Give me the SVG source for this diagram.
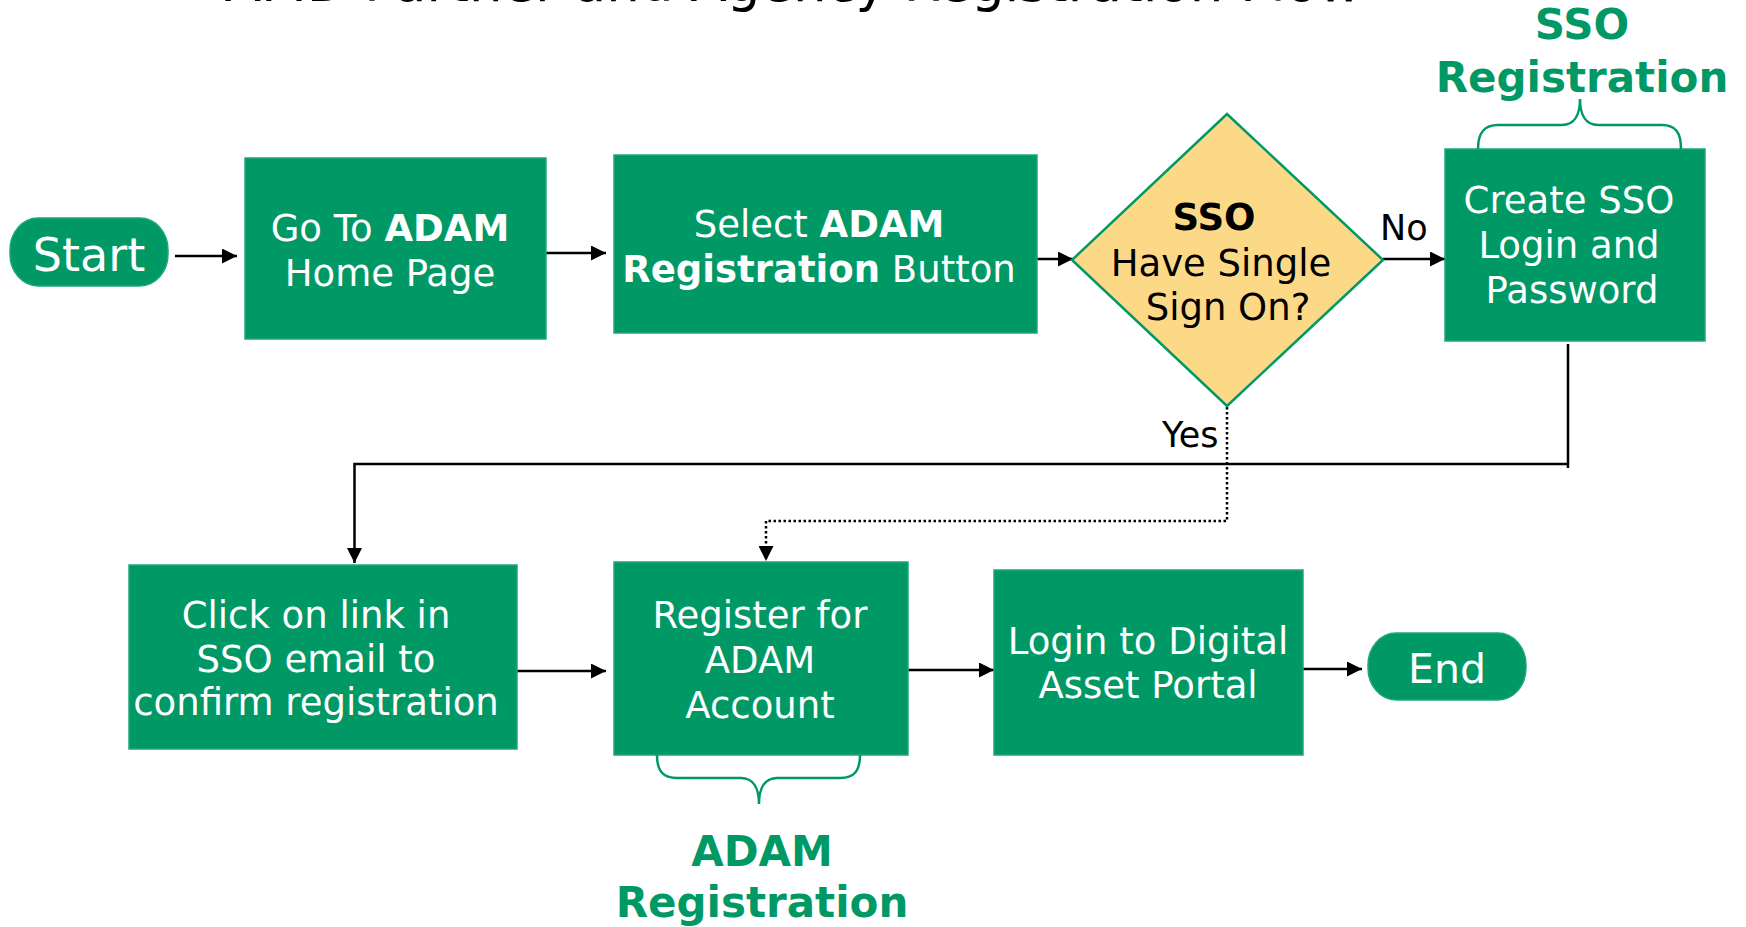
<svg xmlns="http://www.w3.org/2000/svg" width="1746" height="927" viewBox="0 0 1746 927">
<style>
  .box { fill: #009966; stroke: #1fa877; stroke-width: 1.5; }
  .pill { fill: #009966; stroke: #1fa877; stroke-width: 1.5; }
  .dec { fill: #fcd986; stroke: #009966; stroke-width: 2.5; }
  .t { font-family: "DejaVu Sans", Verdana, sans-serif; font-size: 37px; fill: #ffffff; text-anchor: middle; }
  .td { font-family: "DejaVu Sans", Verdana, sans-serif; font-size: 37px; fill: #000000; text-anchor: middle; }
  .lbl { font-family: "DejaVu Sans", Verdana, sans-serif; font-size: 35px; fill: #000000; }
  .grp { font-family: "DejaVu Sans", Verdana, sans-serif; font-size: 42px; font-weight: bold; fill: #009966; text-anchor: middle; }
  .title { font-family: "DejaVu Sans", Verdana, sans-serif; font-size: 53px; fill: #000000; text-anchor: middle; }
  .b { font-weight: bold; }
  .c { fill: none; stroke: #000000; stroke-width: 2.5; }
  .dot { fill: none; stroke: #000000; stroke-width: 2.5; stroke-dasharray: 2.5 2.5; }
  .brace { fill: none; stroke: #009966; stroke-width: 2.5; }
</style>
<defs>
  <marker id="ah" markerWidth="15" markerHeight="15" refX="15" refY="7.5" orient="auto" markerUnits="userSpaceOnUse">
    <path d="M0,0 L15,7.5 L0,15 Z" fill="#000000"/>
  </marker>
</defs>

<text class="title" x="793" y="1">AMD Partner and Agency Registration Flow</text>

<g id="connectors">
  <line class="c" x1="175" y1="256" x2="237" y2="256" marker-end="url(#ah)"/>
  <line class="c" x1="546" y1="253" x2="606" y2="253" marker-end="url(#ah)"/>
  <line class="c" x1="1037" y1="259" x2="1073" y2="259" marker-end="url(#ah)"/>
  <line class="c" x1="1383" y1="259" x2="1445" y2="259" marker-end="url(#ah)"/>
  <text class="lbl" x="1380" y="240">No</text>
  <path class="c" d="M1568,344 L1568,468"/>
  <path class="c" d="M1568,464 L354.5,464 L354.5,563" marker-end="url(#ah)"/>
  <path class="dot" d="M1227,407 L1227,521 L766,521 L766,561" marker-end="url(#ah)"/>
  <text class="lbl" x="1162" y="447">Yes</text>
  <line class="c" x1="517" y1="671" x2="606" y2="671" marker-end="url(#ah)"/>
  <line class="c" x1="908" y1="670" x2="994" y2="670" marker-end="url(#ah)"/>
  <line class="c" x1="1303" y1="669" x2="1362" y2="669" marker-end="url(#ah)"/>
</g>

<g id="start">
  <rect class="pill" x="10" y="218" width="158" height="68" rx="28" ry="32"/>
  <text class="t" x="89" y="271" style="font-size:46px">Start</text>
</g>

<g id="goto">
  <rect class="box" x="245" y="158" width="301" height="181"/>
  <text class="t" x="390" y="241">Go To <tspan class="b">ADAM</tspan></text>
  <text class="t" x="390" y="286">Home Page</text>
</g>

<g id="select">
  <rect class="box" x="614" y="155" width="423" height="178"/>
  <text class="t" x="819" y="237">Select <tspan class="b">ADAM</tspan></text>
  <text class="t" x="819" y="282"><tspan class="b">Registration</tspan> Button</text>
</g>

<g id="decision">
  <polygon class="dec" points="1227,114 1383,260 1227,406 1072,260"/>
  <text class="td b" x="1214" y="230">SSO</text>
  <text class="td" x="1221" y="276">Have Single</text>
  <text class="td" x="1228" y="320">Sign On?</text>
</g>

<g id="create">
  <rect class="box" x="1445" y="149" width="260" height="192"/>
  <text class="t" x="1569" y="213">Create SSO</text>
  <text class="t" x="1569" y="258">Login and</text>
  <text class="t" x="1572" y="303">Password</text>
</g>

<g id="sso-group">
  <path class="brace" d="M1478,149 C1478,133 1484,125 1498,125 L1562,125 C1574,125 1580,115 1580,99 C1580,115 1586,125 1598,125 L1662,125 C1676,125 1681,133 1681,149"/>
  <text class="grp" x="1582" y="39">SSO</text>
  <text class="grp" x="1582" y="92">Registration</text>
</g>

<g id="click">
  <rect class="box" x="129" y="565" width="388" height="184"/>
  <text class="t" x="316" y="628">Click on link in</text>
  <text class="t" x="316" y="672">SSO email to</text>
  <text class="t" x="316" y="715">confirm registration</text>
</g>

<g id="register">
  <rect class="box" x="614" y="562" width="294" height="193"/>
  <text class="t" x="760" y="628">Register for</text>
  <text class="t" x="760" y="673">ADAM</text>
  <text class="t" x="760" y="718">Account</text>
</g>

<g id="adam-group">
  <path class="brace" d="M657,755 C657,771 663,778 677,778 L741,778 C753,778 759,788 759,804 C759,788 765,778 777,778 L840,778 C854,778 860,771 860,755"/>
  <text class="grp" x="762" y="866">ADAM</text>
  <text class="grp" x="762" y="917">Registration</text>
</g>

<g id="login">
  <rect class="box" x="994" y="570" width="309" height="185"/>
  <text class="t" x="1148" y="654">Login to Digital</text>
  <text class="t" x="1148" y="698">Asset Portal</text>
</g>

<g id="end">
  <rect class="pill" x="1368" y="633" width="158" height="67" rx="28" ry="32"/>
  <text class="t" x="1447" y="683" style="font-size:41px">End</text>
</g>
</svg>
